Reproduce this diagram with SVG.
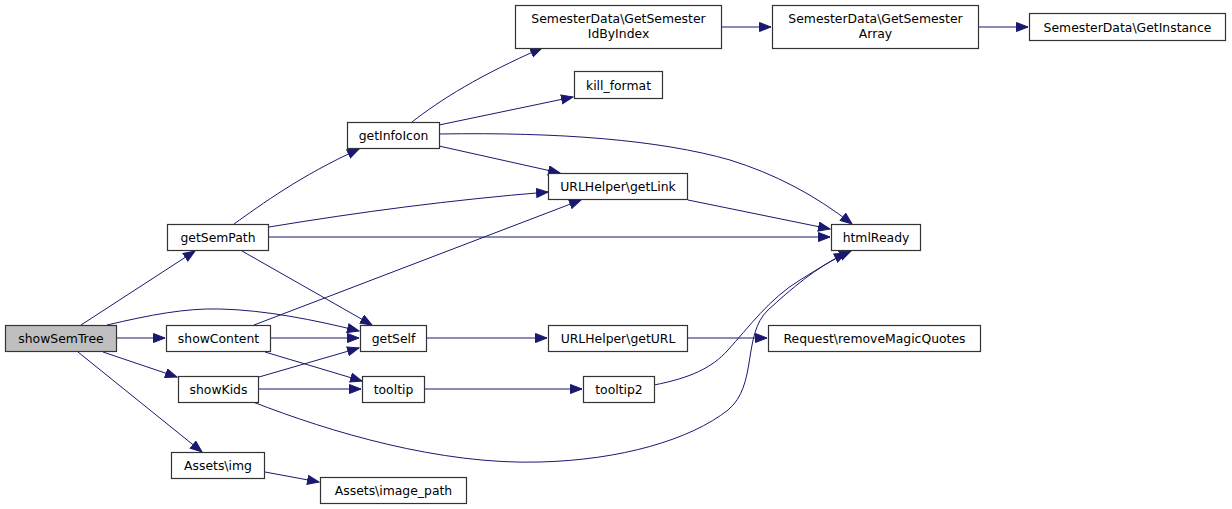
<svg xmlns="http://www.w3.org/2000/svg" width="1232" height="509" viewBox="0 0 1232 509">
<style>
.n rect{fill:#ffffff;stroke:#333333;stroke-width:1.2}
.n text{font-family:"DejaVu Sans",sans-serif;font-size:12.4px;fill:#000000;text-anchor:middle}
#edges path{fill:none;stroke:#191970;stroke-width:1;marker-end:url(#ah)}
</style>
<defs>
<marker id="ah" markerUnits="userSpaceOnUse" markerWidth="14" markerHeight="11" refX="12" refY="5" orient="auto">
<path d="M0.5,0.5 L12,5 L0.5,9.5 z" fill="#191970" stroke="#191970" stroke-width="1"/>
</marker>
</defs>
<rect width="1232" height="509" fill="#ffffff"/>
<g id="edges">
<path d="M81,325 L195,251"/>
<path d="M107,325 C150,315 185,308 220,309 C265,310 315,320 359,331"/>
<path d="M117,338 L165,338"/>
<path d="M103,352 L177,377"/>
<path d="M78,352 L202,452"/>
<path d="M234,224 C262,204 300,176 359,149"/>
<path d="M269,227 C360,212 450,200 548,192"/>
<path d="M269,237 L830,237"/>
<path d="M242,251 L372,325"/>
<path d="M254,325 L581,200"/>
<path d="M271,338 L359,338"/>
<path d="M265,352 L362,381"/>
<path d="M259,377 L359,348"/>
<path d="M259,389 L361,389"/>
<path d="M253,402 C330,432 440,465 540,462 C620,460 690,440 728,410 C758,385 742,335 768,310 C790,290 815,268 846,253"/>
<path d="M265,472 L319,482"/>
<path d="M412,122 C440,100 480,75 542,48"/>
<path d="M439,125 L573,97"/>
<path d="M439,134 C560,132 660,140 730,160 C775,174 815,195 852,224"/>
<path d="M439,146 L560,173"/>
<path d="M688,200 L830,229"/>
<path d="M722,27 L771,27"/>
<path d="M979,27 L1028,27"/>
<path d="M427,338 L547,338"/>
<path d="M688,338 L767,338"/>
<path d="M425,389 L582,389"/>
<path d="M654,385 C690,378 712,368 728,350 C748,328 770,298 800,280 C818,269 833,259 851,251"/>
</g>
<g id="showSemTree" class="n"><rect x="5.5" y="325.5" width="111" height="26" style="fill:#bfbfbf"/><text x="61" y="343">showSemTree</text></g>
<g id="getSemPath" class="n"><rect x="167.5" y="224.5" width="101" height="26"/><text x="218" y="242">getSemPath</text></g>
<g id="showContent" class="n"><rect x="166.5" y="325.5" width="104" height="26"/><text x="218.5" y="343">showContent</text></g>
<g id="getSelf" class="n"><rect x="360.5" y="325.5" width="66" height="26"/><text x="393.5" y="343">getSelf</text></g>
<g id="showKids" class="n"><rect x="178.5" y="376.5" width="80" height="26"/><text x="218.5" y="394">showKids</text></g>
<g id="tooltip" class="n"><rect x="362.5" y="376.5" width="62" height="26"/><text x="393.5" y="394">tooltip</text></g>
<g id="Assets_img" class="n"><rect x="171.5" y="452.5" width="93" height="26"/><text x="218" y="470">Assets\img</text></g>
<g id="Assets_image_path" class="n"><rect x="320.5" y="477.5" width="146" height="26"/><text x="393.5" y="495">Assets\image_path</text></g>
<g id="getInfoIcon" class="n"><rect x="347.5" y="122.5" width="92" height="26"/><text x="393.5" y="140">getInfoIcon</text></g>
<g id="GetSemesterIdByIndex" class="n"><rect x="515.5" y="5.5" width="206" height="43"/><text x="618.5" y="23">SemesterData\GetSemester</text><text x="618.5" y="38">IdByIndex</text></g>
<g id="kill_format" class="n"><rect x="574.5" y="71.5" width="88" height="27"/><text x="618.5" y="89.5">kill_format</text></g>
<g id="getLink" class="n"><rect x="548.5" y="173.5" width="139" height="26"/><text x="618" y="191">URLHelper\getLink</text></g>
<g id="GetSemesterArray" class="n"><rect x="772.5" y="5.5" width="206" height="43"/><text x="875.5" y="23">SemesterData\GetSemester</text><text x="875.5" y="38">Array</text></g>
<g id="GetInstance" class="n"><rect x="1029.5" y="13.5" width="196" height="27"/><text x="1127.5" y="31.5">SemesterData\GetInstance</text></g>
<g id="htmlReady" class="n"><rect x="831.5" y="224.5" width="89" height="26"/><text x="876" y="242">htmlReady</text></g>
<g id="getURL" class="n"><rect x="548.5" y="325.5" width="139" height="26"/><text x="618" y="343">URLHelper\getURL</text></g>
<g id="removeMagicQuotes" class="n"><rect x="768.5" y="325.5" width="212" height="26"/><text x="874.5" y="343">Request\removeMagicQuotes</text></g>
<g id="tooltip2" class="n"><rect x="583.5" y="376.5" width="71" height="26"/><text x="619" y="394">tooltip2</text></g>
</svg>
